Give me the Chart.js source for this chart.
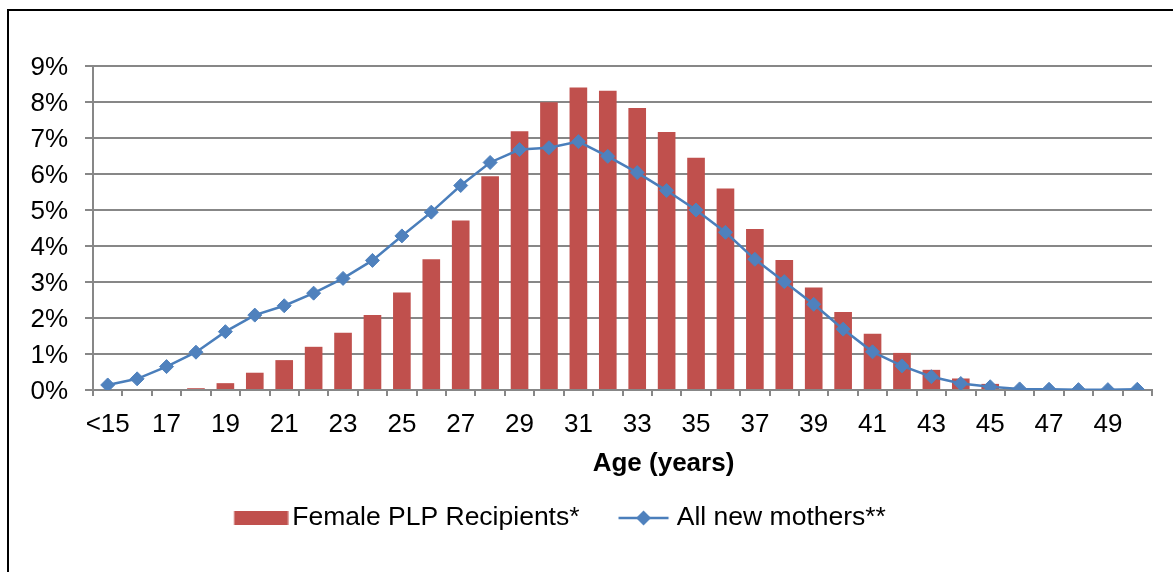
<!DOCTYPE html>
<html>
<head>
<meta charset="utf-8">
<script src="https://cdn.jsdelivr.net/npm/chart.js@4.4.1/dist/chart.umd.min.js"></script>
<style>
  html, body { margin: 0; padding: 0; background: #fff; overflow: hidden; }
  #wrap { position: relative; width: 1173px; height: 572px; }
  #frame { position: absolute; left: 7px; top: 9px; width: 1200px; height: 600px;
           border-left: 2px solid #000; border-top: 2px solid #000; pointer-events: none; }
  canvas { position: absolute; left: 0; top: 0; }
</style>
</head>
<body>
<div id="wrap">
  <canvas id="c" width="1173" height="572"></canvas>
  <div id="frame"></div>
</div>
<script>
// ---- data ----
const categories = ['<15','16','17','18','19','20','21','22','23','24','25','26','27','28','29','30','31','32','33','34','35','36','37','38','39','40','41','42','43','44','45','46','47','48','49','50'];
const plpRecipients = [0,0,0,0.05,0.19,0.48,0.83,1.2,1.59,2.08,2.71,3.63,4.71,5.94,7.19,7.99,8.40,8.31,7.83,7.17,6.45,5.60,4.47,3.61,2.85,2.17,1.56,1.03,0.56,0.32,0.17,0.05,0.02,0.01,0,0];
const allNewMothers = [0.14,0.31,0.65,1.05,1.62,2.08,2.34,2.69,3.10,3.60,4.28,4.94,5.68,6.32,6.68,6.73,6.90,6.49,6.04,5.54,5.00,4.38,3.63,3.01,2.38,1.69,1.06,0.67,0.37,0.18,0.09,0.03,0.02,0.01,0.01,0.02];
const seriesNames = ['Female PLP Recipients*', 'All new mothers**'];
const yTickValues = [0,1,2,3,4,5,6,7,8,9];
const xTitle = 'Age (years)';

// ---- styles ----
const FONT = '"Liberation Sans", Arial, sans-serif';
const RED = '#C0504D';
const BLUE = '#4A7EBB';
const BLUE_PT = '#4F81BD';
const GRID = '#878787';
Chart.defaults.color = '#000';
Chart.defaults.font.family = FONT;

function makeSwatch(kind) {
  const c = document.createElement('canvas');
  c.width = 64; c.height = 26;
  const g = c.getContext('2d');
  if (kind === 'bar') {
    g.fillStyle = RED;
    g.fillRect(9.5, 6, 54, 14);
  } else {
    g.strokeStyle = BLUE; g.lineWidth = 2.5;
    g.beginPath(); g.moveTo(9.5, 13); g.lineTo(59.5, 13); g.stroke();
    g.fillStyle = BLUE_PT;
    g.beginPath(); g.moveTo(34.5, 5.5); g.lineTo(42, 13); g.lineTo(34.5, 20.5); g.lineTo(27, 13); g.closePath(); g.fill();
  }
  return c;
}
const swatches = [makeSwatch('bar'), makeSwatch('line')];

const extras = {
  id: 'extras',
  afterLayout(chart) {
    if (chart.legend) { chart.legend.left -= 32; }
  },
  afterDraw(chart) {
    const a = chart.chartArea, ctx = chart.ctx;
    ctx.save();
    ctx.font = 'bold 26px ' + FONT;
    ctx.fillStyle = '#000';
    ctx.textAlign = 'center';
    ctx.textBaseline = 'middle';
    ctx.fillText(xTitle, (a.left + a.right) / 2 + 41, a.bottom + 74);
    ctx.restore();
  }
};

new Chart(document.getElementById('c'), {
  type: 'bar',
  data: {
    labels: categories,
    datasets: [
      {
        type: 'bar', label: seriesNames[0], data: plpRecipients,
        backgroundColor: RED, borderWidth: 0,
        barPercentage: 0.6, categoryPercentage: 1.0, order: 2
      },
      {
        type: 'line', label: seriesNames[1], data: allNewMothers,
        borderColor: BLUE, borderWidth: 2.5, backgroundColor: BLUE_PT,
        pointStyle: 'rectRot', pointRadius: 7, pointBackgroundColor: BLUE_PT,
        pointBorderColor: BLUE_PT, pointBorderWidth: 1, tension: 0, order: 1
      }
    ]
  },
  options: {
    responsive: false,
    animation: false,
    layout: { padding: { left: 0, top: 66, right: 21, bottom: 30.75 } },
    plugins: {
      tooltip: { enabled: false },
      legend: {
        position: 'bottom',
        labels: {
          usePointStyle: true,
          pointStyleWidth: 45,
          boxHeight: 14,
          padding: 39,
          font: { size: 26.5, family: FONT },
          color: '#000',
          generateLabels: (chart) => seriesNames.map((n, i) => ({
            text: n, pointStyle: swatches[i], datasetIndex: i,
            fillStyle: 'transparent', strokeStyle: 'transparent', lineWidth: 0, hidden: false
          }))
        }
      }
    },
    scales: {
      x: {
        offset: true,
        grid: { display: true, drawOnChartArea: false, drawTicks: true, tickLength: 6, color: GRID, lineWidth: 2, offset: true },
        border: { display: true, color: GRID, width: 2 },
        ticks: {
          autoSkip: false, maxRotation: 0, minRotation: 0, padding: 13,
          font: { size: 26, family: FONT }, color: '#000',
          callback: (v, i) => (i % 2 === 0 ? categories[i] : '')
        },
        afterFit: (s) => { s.height = 75.75; }
      },
      y: {
        min: yTickValues[0], max: yTickValues[yTickValues.length - 1],
        afterBuildTicks: (s) => { s.ticks = yTickValues.map(v => ({ value: v })); },
        grid: { color: GRID, lineWidth: 2, drawTicks: true, tickLength: 8 },
        border: { display: true, color: GRID, width: 2 },
        ticks: {
          padding: 17, labelOffset: 2, font: { size: 26, family: FONT }, color: '#000',
          callback: (v) => v + '%'
        },
        afterFit: (s) => { s.width = 93; }
      }
    }
  },
  plugins: [extras]
});
</script>
</body>
</html>
